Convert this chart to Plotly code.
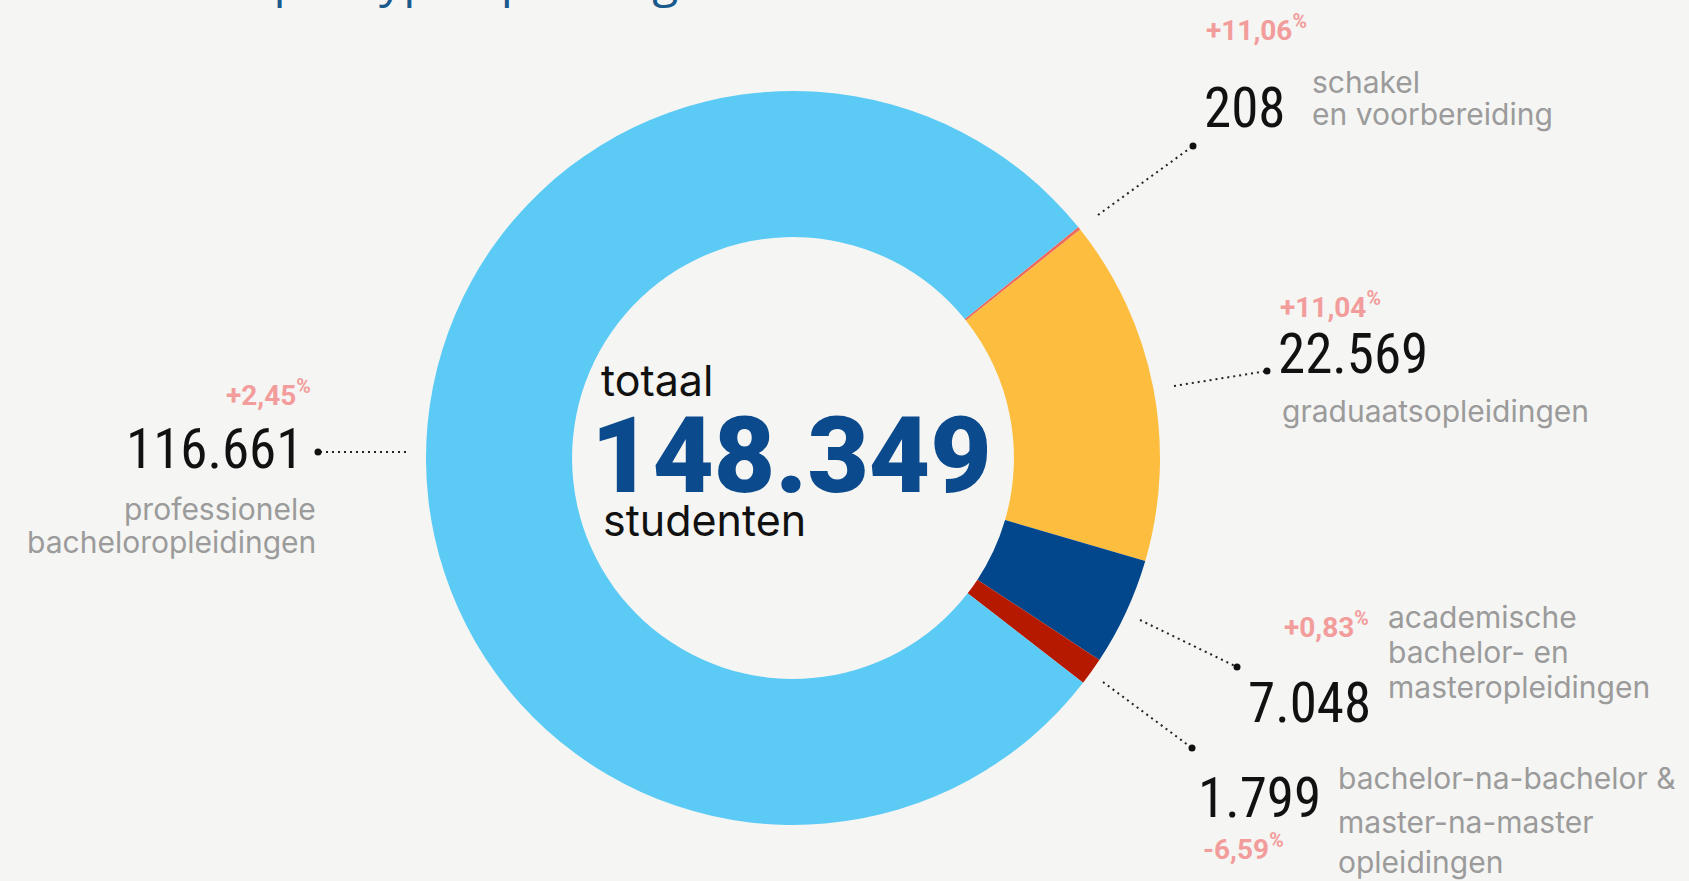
import plotly.graph_objects as go

# ---------------- data ----------------
categories = [
    "schakel en voorbereiding",
    "graduaatsopleidingen",
    "academische bachelor- en masteropleidingen",
    "bachelor-na-bachelor & master-na-master opleidingen",
    "professionele bacheloropleidingen",
]
values = [208, 22569, 7048, 1799, 116661]
changes = ["+11,06", "+11,04", "+0,83", "-6,59", "+2,45"]
desc_lines = [
    ["schakel", "en voorbereiding"],
    ["graduaatsopleidingen"],
    ["academische", "bachelor- en", "masteropleidingen"],
    ["bachelor-na-bachelor &", "master-na-master", "opleidingen"],
    ["professionele", "bacheloropleidingen"],
]
total = 148349
title = "Studenten per type opleiding"

colors = ["#ec6a5e", "#fdbe3f", "#02468b", "#b51a00", "#5bcbf5"]

W, H = 1689, 881
BG = "#f5f5f3"
NUM_FONT = "Liberation Sans Narrow, Roboto Condensed, Arial Narrow, DejaVu Sans Condensed, Roboto"
LBL_FONT = "Inter, Roboto, sans-serif"
PINK = "#f29c9c"
GRAY = "#9b9b9b"


def fmt(v):
    return f"{v:,}".replace(",", ".")


def X(p):
    return p / W


def Y(p):
    return 1 - p / H


annotations = []
shapes = []


def text(t, x, baseline, size, family, color, anchor="left", weight=400, k=0.35):
    annotations.append(dict(
        text=t, x=X(x), y=Y(baseline - k * size), xref="paper", yref="paper",
        xanchor=anchor, yanchor="middle", showarrow=False, borderpad=0,
        font=dict(size=size, family=family, color=color, weight=weight),
    ))


def leader(x0, y0, x1, y1):
    shapes.append(dict(type="line", xref="paper", yref="paper",
                       x0=X(x0), y0=Y(y0), x1=X(x1), y1=Y(y1),
                       line=dict(color="#222222", width=2, dash="2px,4px")))
    r = 3.5
    shapes.append(dict(type="circle", xref="paper", yref="paper",
                       x0=X(x1 - r), x1=X(x1 + r), y0=Y(y1 - r), y1=Y(y1 + r),
                       fillcolor="#111111", line=dict(width=0)))


def pct(c):
    return f"{c}<sup>%</sup>"


NUM_SIZE = 55
LBL_SIZE = 30
PCT_SIZE = 28

# ---------------- donut ----------------
cx, cy, R = 793, 458, 367
fig = go.Figure(go.Pie(
    labels=categories, values=values, sort=False, direction="clockwise",
    rotation=51, hole=0.602, textinfo="none", hoverinfo="label+value",
    marker=dict(colors=colors, line=dict(width=0)), showlegend=False,
    domain=dict(x=[X(cx - R), X(cx + R)], y=[Y(cy + R), Y(cy - R)]),
))

# centre text
text("totaal", 600, 395, 43, LBL_FONT, "#111111")
text(fmt(total), 791, 493, 106, "Roboto", "#0b4a8c", anchor="center", weight=900)
text("studenten", 602, 535, 43, LBL_FONT, "#111111")

# schakel en voorbereiding (208)
text(pct(changes[0]), 1205, 38, PCT_SIZE, "Roboto", PINK, weight=700)
text(fmt(values[0]), 1203, 127, NUM_SIZE, NUM_FONT, "#111111")
text(desc_lines[0][0], 1311, 92, LBL_SIZE, LBL_FONT, GRAY)
text(desc_lines[0][1], 1311, 124, LBL_SIZE, LBL_FONT, GRAY)
leader(1098, 215, 1193, 146)

# graduaatsopleidingen
text(pct(changes[1]), 1279, 315, PCT_SIZE, "Roboto", PINK, weight=700)
text(fmt(values[1]), 1277, 373, NUM_SIZE, NUM_FONT, "#111111")
text(desc_lines[1][0], 1281, 421, LBL_SIZE, LBL_FONT, GRAY)
leader(1174, 386, 1267, 371)

# academische
text(pct(changes[2]), 1370, 635, PCT_SIZE, "Roboto", PINK, anchor="right", weight=700)
text(fmt(values[2]), 1247, 722, NUM_SIZE, NUM_FONT, "#111111")
for line, b in zip(desc_lines[2], [627, 662, 697]):
    text(line, 1387, b, LBL_SIZE, LBL_FONT, GRAY)
leader(1140, 620, 1237, 667)

# bachelor-na-bachelor
text(fmt(values[3]), 1197, 817, NUM_SIZE, NUM_FONT, "#111111")
text(pct(changes[3]), 1202, 857, PCT_SIZE, "Roboto", PINK, weight=700)
for line, b in zip(desc_lines[3], [788, 832, 872]):
    text(line, 1337, b, LBL_SIZE, LBL_FONT, GRAY)
leader(1103, 682, 1192, 748)

# professionele bacheloropleidingen
text(pct(changes[4]), 312, 403, PCT_SIZE, "Roboto", PINK, anchor="right", weight=700)
text(fmt(values[4]), 304, 468, NUM_SIZE, NUM_FONT, "#111111", anchor="right")
text(desc_lines[4][0], 317, 519, LBL_SIZE, LBL_FONT, GRAY, anchor="right")
text(desc_lines[4][1], 317, 552, LBL_SIZE, LBL_FONT, GRAY, anchor="right")
leader(406, 452, 318, 452)

# title (cut off at the top edge, as in the reference)
annotations.append(dict(
    text=title, x=X(28), y=Y(12), xref="paper", yref="paper",
    xanchor="left", yanchor="bottom", showarrow=False, borderpad=0,
    font=dict(size=48, family="Open Sans", color="#1a5a8c"),
))

fig.update_layout(
    width=W, height=H, margin=dict(l=0, r=0, t=0, b=0),
    paper_bgcolor=BG, plot_bgcolor=BG,
    annotations=annotations, shapes=shapes,
)

fig.write_html(
    "out.html",
    config={"displayModeBar": False},
    post_script="document.body.style.margin='0';document.body.style.overflow='hidden';",
)
